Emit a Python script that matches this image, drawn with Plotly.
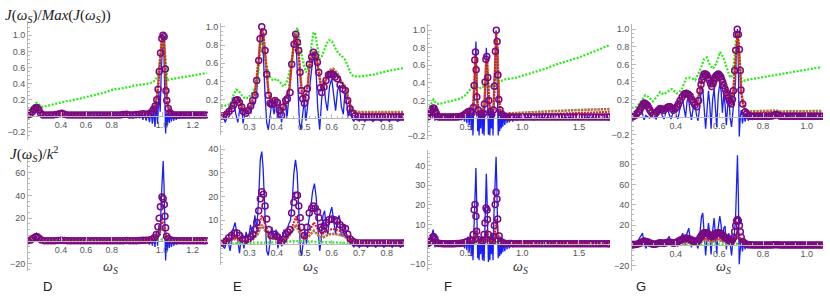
import plotly.graph_objects as go

# ---------------- data ----------------
# Panel D, upper (normalised)
D_TOP_BLUE = [(0.195,0.0),(0.215,0.01),(0.23,0.04),(0.24,0.09),(0.25,0.11),(0.26,0.09),(0.27,0.03),(0.28,0.0),(0.3,0.01),(0.33,0.0),(0.36,0.01),(0.39,0.02),(0.4,0.03),(0.41,0.02),(0.45,0.0),(0.5,0.01),(0.55,0.0),(0.6,0.01),(0.65,0.0),(0.7,0.01),(0.75,0.0),(0.8,0.01),(0.82,-0.01),(0.84,0.02),(0.86,-0.02),(0.87,0.02),(0.88,-0.03),(0.89,0.03),(0.9,-0.05),(0.91,0.03),(0.92,-0.06),(0.93,0.04),(0.94,-0.08),(0.95,0.05),(0.958,-0.1),(0.966,0.08),(0.974,-0.14),(0.982,0.15),(0.99,-0.1),(0.998,0.3),(1.006,0.05),(1.013,0.6),(1.019,0.92),(1.024,1.0),(1.029,0.75),(1.034,0.15),(1.039,-0.22),(1.044,0.02),(1.05,-0.12),(1.056,0.06),(1.062,-0.09),(1.068,0.05),(1.075,-0.07),(1.082,0.04),(1.089,-0.06),(1.096,0.03),(1.104,-0.05),(1.112,0.03),(1.12,-0.04),(1.13,0.02),(1.14,-0.03),(1.15,0.01),(1.17,0.0),(1.2,0.0),(1.285,0.0)]
D_TOP_GREEN = [(0.195,0.07),(0.21,0.085),(0.225,0.10),(0.235,0.13),(0.245,0.155),(0.255,0.16),(0.265,0.14),(0.275,0.12),(0.29,0.11),(0.31,0.12),(0.34,0.14),(0.37,0.155),(0.40,0.17),(0.43,0.18),(0.46,0.19),(0.49,0.20),(0.52,0.215),(0.55,0.23),(0.58,0.245),(0.61,0.26),(0.64,0.275),(0.67,0.29),(0.70,0.315),(0.73,0.33),(0.76,0.335),(0.79,0.345),(0.82,0.36),(0.85,0.375),(0.88,0.385),(0.91,0.39),(0.94,0.40),(0.96,0.42),(0.975,0.44),(0.99,0.50),(1.0,0.60),(1.01,0.78),(1.02,0.95),(1.025,1.0),(1.03,0.92),(1.04,0.70),(1.045,0.50),(1.05,0.44),(1.06,0.45),(1.09,0.46),(1.12,0.47),(1.15,0.48),(1.18,0.49),(1.21,0.50),(1.24,0.51),(1.27,0.52),(1.29,0.53)]
D_TOP_BROWN = [(0.195,0.03),(0.225,0.07),(0.245,0.12),(0.255,0.12),(0.27,0.06),(0.29,0.03),(0.4,0.045),(0.45,0.03),(0.8,0.035),(0.9,0.04),(0.94,0.05),(0.96,0.08),(0.975,0.14),(0.985,0.23),(0.993,0.37),(1.0,0.58),(1.008,0.8),(1.016,0.95),(1.023,0.98),(1.03,0.92),(1.037,0.6),(1.042,0.35),(1.047,0.21),(1.055,0.11),(1.065,0.06),(1.08,0.035),(1.285,0.035)]
D_TOP_RED = [(0.195,0.02),(0.225,0.06),(0.245,0.11),(0.255,0.11),(0.27,0.05),(0.29,0.02),(0.4,0.035),(0.45,0.02),(0.6,0.02),(0.8,0.025),(0.9,0.03),(0.94,0.04),(0.96,0.07),(0.975,0.13),(0.985,0.22),(0.993,0.36),(1.0,0.58),(1.008,0.8),(1.016,0.95),(1.023,0.99),(1.03,0.93),(1.037,0.6),(1.042,0.34),(1.047,0.2),(1.055,0.1),(1.065,0.05),(1.08,0.025),(1.285,0.02)]
D_TOP_PURPLE = [(0.195,0.01),(0.21,0.02),(0.225,0.05),(0.235,0.08),(0.245,0.1),(0.255,0.1),(0.265,0.07),(0.275,0.03),(0.29,0.01),(0.31,0.01),(0.33,0.01),(0.35,0.01),(0.37,0.015),(0.39,0.025),(0.405,0.03),(0.42,0.02),(0.44,0.01),(0.46,0.01),(0.48,0.01),(0.5,0.01),(0.52,0.01),(0.54,0.01),(0.56,0.01),(0.58,0.01),(0.6,0.01),(0.62,0.01),(0.64,0.01),(0.66,0.01),(0.68,0.01),(0.7,0.01),(0.72,0.01),(0.74,0.01),(0.76,0.01),(0.78,0.015),(0.8,0.02),(0.82,0.01),(0.84,0.01),(0.86,0.015),(0.88,0.02),(0.9,0.025),(0.915,0.02),(0.93,0.02),(0.945,0.03),(0.955,0.05),(0.965,0.08),(0.975,0.12),(0.985,0.2),(0.993,0.33),(1.0,0.55),(1.008,0.78),(1.016,0.96),(1.023,1.0),(1.03,0.98),(1.037,0.58),(1.041,0.31),(1.046,0.19),(1.055,0.09),(1.065,0.04),(1.075,0.02),(1.09,0.01),(1.105,0.01),(1.12,0.01),(1.135,0.01),(1.15,0.01),(1.165,0.01),(1.18,0.01),(1.195,0.01),(1.21,0.01),(1.225,0.01),(1.24,0.01),(1.255,0.01),(1.27,0.01),(1.285,0.01)]

# Panel D, lower (J/k^2)
D_BOT_BLUE = [(0.195,0),(0.225,1),(0.24,5),(0.25,7),(0.26,5),(0.27,1),(0.28,0),(0.4,0.5),(0.5,0),(0.85,0),(0.87,1),(0.88,-1),(0.9,2),(0.91,-2),(0.925,2),(0.94,-3),(0.95,3),(0.958,-4),(0.966,5),(0.974,-5),(0.982,8),(0.99,-4),(0.998,14),(1.006,5),(1.013,38),(1.019,64),(1.024,70),(1.029,50),(1.034,8),(1.039,-17),(1.044,2),(1.05,-8),(1.056,4),(1.062,-6),(1.068,4),(1.075,-5),(1.082,3),(1.089,-4),(1.096,2),(1.104,-3),(1.112,2),(1.12,-2),(1.13,1),(1.14,-1),(1.15,0.5),(1.285,0)]
D_BOT_GREEN = [(0.195,0.2),(0.25,0.6),(0.3,0.3),(0.9,0.3),(0.98,0.6),(1.0,1.2),(1.02,1.6),(1.04,1.0),(1.06,0.5),(1.285,0.5)]
D_BOT_BROWN = [(0.195,0.5),(0.245,2),(0.255,2),(0.28,0.5),(0.9,0.5),(0.97,1.5),(0.99,4),(1.005,8),(1.02,11),(1.032,9),(1.042,4),(1.055,1.5),(1.08,0.6),(1.285,0.5)]
D_BOT_RED = [(0.195,0.3),(0.245,2.5),(0.255,2.5),(0.28,0.5),(0.4,0.5),(0.9,0.5),(0.96,1.5),(0.98,3.5),(0.995,8),(1.008,14),(1.02,17),(1.03,14),(1.038,7),(1.048,2),(1.07,0.6),(1.285,0.4)]
D_BOT_PURPLE = [(0.195,0.3),(0.215,1),(0.23,2.5),(0.245,3.8),(0.255,3.8),(0.265,2.5),(0.28,1),(0.3,0.4),(0.32,0.3),(0.34,0.3),(0.36,0.3),(0.38,0.5),(0.4,0.7),(0.42,0.6),(0.44,0.4),(0.46,0.3),(0.48,0.3),(0.5,0.3),(0.52,0.3),(0.54,0.3),(0.56,0.3),(0.58,0.3),(0.6,0.3),(0.62,0.3),(0.64,0.3),(0.66,0.3),(0.68,0.3),(0.7,0.3),(0.72,0.3),(0.74,0.3),(0.76,0.3),(0.78,0.4),(0.8,0.6),(0.82,0.4),(0.84,0.4),(0.86,0.4),(0.88,0.5),(0.9,0.7),(0.92,0.8),(0.94,1.0),(0.955,1.5),(0.97,3),(0.982,5.8),(0.992,12.5),(1.0,20),(1.007,30),(1.017,38.6),(1.024,37),(1.031,32),(1.035,21.7),(1.039,11.6),(1.045,4.3),(1.055,2),(1.07,1),(1.09,0.5),(1.11,0.4),(1.13,0.3),(1.15,0.3),(1.17,0.3),(1.19,0.3),(1.21,0.3),(1.23,0.3),(1.25,0.3),(1.27,0.3),(1.285,0.3)]

# Panel E, upper
E_TOP_BLUE = [(0.196,-0.01),(0.205,0.02),(0.212,-0.05),(0.222,0.05),(0.232,0.15),(0.242,0.23),(0.25,0.05),(0.258,-0.05),(0.265,0.1),(0.272,0.12),(0.277,-0.06),(0.284,0.08),(0.29,0.04),(0.298,0.12),(0.305,0.05),(0.312,0.18),(0.32,0.15),(0.327,0.3),(0.333,0.6),(0.34,0.92),(0.345,0.98),(0.35,0.75),(0.357,0.25),(0.363,-0.05),(0.369,-0.13),(0.376,0.02),(0.382,0.18),(0.39,0.04),(0.397,0.2),(0.404,0.0),(0.41,0.17),(0.417,-0.05),(0.424,0.12),(0.43,0.2),(0.437,0.0),(0.444,0.25),(0.452,0.5),(0.458,0.8),(0.464,0.93),(0.47,0.85),(0.476,0.45),(0.482,-0.05),(0.488,-0.13),(0.494,0.05),(0.5,0.2),(0.506,-0.03),(0.512,0.15),(0.518,0.3),(0.524,0.5),(0.53,0.62),(0.537,0.68),(0.543,0.5),(0.549,0.1),(0.556,-0.13),(0.563,0.2),(0.57,0.42),(0.577,0.2),(0.584,0.08),(0.592,0.35),(0.6,0.43),(0.607,0.25),(0.614,0.08),(0.621,0.3),(0.628,0.36),(0.635,0.12),(0.642,0.04),(0.648,0.28),(0.655,0.15),(0.66,0.0),(0.667,0.15),(0.673,0.0),(0.68,-0.04),(0.69,0.02),(0.7,-0.04),(0.71,0.01),(0.72,-0.04),(0.735,0.01),(0.75,-0.04),(0.765,0.01),(0.78,-0.04),(0.795,0.01),(0.81,-0.04),(0.825,0.01),(0.84,-0.04),(0.862,0.0)]
E_TOP_GREEN = [(0.196,0.127),(0.2175,0.138),(0.232,0.156),(0.2417,0.247),(0.2515,0.31),(0.26,0.30),(0.272,0.25),(0.284,0.21),(0.296,0.22),(0.308,0.265),(0.321,0.33),(0.329,0.39),(0.336,0.6),(0.342,0.82),(0.347,0.88),(0.353,0.75),(0.36,0.6),(0.369,0.5),(0.378,0.43),(0.387,0.41),(0.4,0.43),(0.412,0.39),(0.424,0.345),(0.433,0.375),(0.442,0.45),(0.45,0.56),(0.46,0.74),(0.469,0.96),(0.475,0.99),(0.482,0.88),(0.49,0.7),(0.5,0.56),(0.506,0.5),(0.515,0.56),(0.523,0.74),(0.533,0.94),(0.54,0.92),(0.548,0.77),(0.555,0.65),(0.563,0.67),(0.572,0.74),(0.582,0.82),(0.591,0.855),(0.601,0.84),(0.612,0.77),(0.624,0.71),(0.636,0.68),(0.648,0.64),(0.66,0.56),(0.67,0.48),(0.681,0.455),(0.703,0.455),(0.751,0.476),(0.8,0.513),(0.849,0.54),(0.863,0.55)]
E_TOP_BROWN = [(0.196,0.04),(0.22,0.06),(0.24,0.15),(0.255,0.22),(0.265,0.19),(0.278,0.09),(0.29,0.07),(0.305,0.15),(0.32,0.27),(0.327,0.43),(0.334,0.64),(0.34,0.87),(0.345,0.97),(0.351,0.92),(0.357,0.72),(0.363,0.49),(0.37,0.27),(0.38,0.19),(0.393,0.21),(0.41,0.11),(0.418,0.06),(0.43,0.21),(0.445,0.31),(0.454,0.6),(0.462,0.82),(0.469,0.92),(0.475,0.84),(0.482,0.6),(0.49,0.31),(0.5,0.19),(0.512,0.35),(0.52,0.6),(0.528,0.7),(0.535,0.73),(0.545,0.66),(0.555,0.46),(0.563,0.31),(0.575,0.4),(0.59,0.52),(0.605,0.54),(0.62,0.49),(0.635,0.4),(0.65,0.34),(0.66,0.22),(0.67,0.12),(0.68,0.075),(0.7,0.065),(0.86,0.065)]
E_TOP_RED = [(0.196,0.03),(0.22,0.05),(0.24,0.14),(0.255,0.21),(0.265,0.18),(0.278,0.08),(0.29,0.06),(0.305,0.14),(0.32,0.26),(0.327,0.42),(0.334,0.64),(0.34,0.88),(0.345,0.98),(0.351,0.93),(0.357,0.72),(0.363,0.48),(0.37,0.26),(0.38,0.18),(0.393,0.2),(0.41,0.1),(0.418,0.05),(0.43,0.2),(0.445,0.3),(0.454,0.6),(0.462,0.82),(0.469,0.93),(0.475,0.84),(0.482,0.6),(0.49,0.3),(0.5,0.18),(0.512,0.34),(0.52,0.6),(0.528,0.7),(0.535,0.73),(0.545,0.66),(0.555,0.45),(0.563,0.3),(0.575,0.38),(0.59,0.5),(0.605,0.52),(0.62,0.47),(0.635,0.38),(0.65,0.32),(0.66,0.2),(0.67,0.1),(0.68,0.06),(0.7,0.045),(0.86,0.045)]
E_TOP_PURPLE = [(0.196,0.02),(0.205,0.02),(0.2175,0.04),(0.226,0.07),(0.2357,0.1),(0.2417,0.14),(0.2502,0.19),(0.2563,0.2),(0.2636,0.17),(0.2721,0.12),(0.2782,0.07),(0.2867,0.05),(0.2964,0.08),(0.3049,0.13),(0.3121,0.19),(0.3206,0.25),(0.3267,0.41),(0.334,0.63),(0.3388,0.87),(0.3449,1.0),(0.351,0.94),(0.357,0.74),(0.3631,0.48),(0.3692,0.25),(0.3752,0.16),(0.38,0.15),(0.385,0.15),(0.3934,0.19),(0.4019,0.17),(0.4092,0.08),(0.4177,0.03),(0.4238,0.12),(0.4323,0.19),(0.4383,0.21),(0.4481,0.28),(0.4541,0.59),(0.4626,0.81),(0.4687,0.92),(0.4748,0.83),(0.4796,0.74),(0.4845,0.5),(0.4893,0.3),(0.4942,0.21),(0.5002,0.16),(0.506,0.22),(0.5112,0.32),(0.5184,0.59),(0.5269,0.67),(0.533,0.72),(0.5403,0.68),(0.5476,0.61),(0.5524,0.5),(0.5585,0.33),(0.5633,0.28),(0.5718,0.34),(0.5791,0.41),(0.5876,0.47),(0.594,0.48),(0.5998,0.48),(0.606,0.47),(0.6119,0.45),(0.6204,0.43),(0.6301,0.36),(0.6398,0.32),(0.6495,0.3),(0.658,0.19),(0.6665,0.1),(0.6762,0.05),(0.6847,0.02),(0.695,0.01),(0.705,0.01),(0.715,0.01),(0.725,0.01),(0.735,0.01),(0.745,0.01),(0.755,0.01),(0.765,0.01),(0.775,0.01),(0.785,0.01),(0.795,0.01),(0.805,0.01),(0.815,0.01),(0.825,0.01),(0.835,0.01),(0.845,0.01),(0.855,0.01),(0.862,0.01)]

# Panel E, lower
E_BOT_BLUE = [(0.196,0),(0.21,-2),(0.22,2),(0.23,-3),(0.24,6),(0.248,9),(0.256,3),(0.264,-4),(0.272,4),(0.28,-2),(0.288,5),(0.296,1),(0.304,8),(0.312,3),(0.32,12),(0.327,6),(0.334,20),(0.34,36),(0.345,39),(0.35,32),(0.357,12),(0.363,-3),(0.369,-5),(0.376,2),(0.382,7),(0.39,2),(0.397,6),(0.404,-2),(0.41,4),(0.418,-1),(0.426,6),(0.434,3),(0.442,8),(0.45,10),(0.456,18),(0.462,30),(0.468,35.5),(0.474,30),(0.48,12),(0.486,-3),(0.49,-5),(0.496,2),(0.502,6),(0.508,0),(0.514,8),(0.522,14),(0.53,22),(0.537,25.5),(0.543,20),(0.55,6),(0.556,-3),(0.562,2),(0.568,12),(0.574,14),(0.58,6),(0.586,4),(0.592,12),(0.6,15.5),(0.607,10),(0.614,4),(0.62,10),(0.627,12),(0.634,4),(0.64,3),(0.647,8),(0.654,4),(0.66,1),(0.667,3),(0.673,0),(0.68,-1.5),(0.69,0.5),(0.7,-1.5),(0.715,0.5),(0.73,-1.5),(0.745,0.5),(0.76,-1.5),(0.775,0.5),(0.79,-1.5),(0.805,0.5),(0.82,-1.5),(0.835,0.5),(0.85,-1.5),(0.862,0)]
E_BOT_GREEN = [(0.196,0.2),(0.3,0.4),(0.345,0.8),(0.4,0.6),(0.47,1.1),(0.535,0.9),(0.6,0.7),(0.68,0.3),(0.862,0.3)]
E_BOT_BROWN = [(0.196,0.3),(0.25,2),(0.28,0.8),(0.31,1.5),(0.33,4),(0.345,8),(0.36,5),(0.375,2),(0.393,2.2),(0.415,0.8),(0.44,2.5),(0.455,5),(0.47,8),(0.485,4),(0.5,1.5),(0.515,3),(0.535,5.5),(0.555,3),(0.565,2.5),(0.59,4),(0.61,4.2),(0.635,3.6),(0.655,2.5),(0.675,0.8),(0.7,0.4),(0.862,0.4)]
E_BOT_RED = [(0.196,0.3),(0.25,2.5),(0.28,1),(0.31,2),(0.33,6),(0.345,12),(0.36,7.5),(0.375,3),(0.393,3),(0.415,1),(0.44,3.5),(0.455,7),(0.47,11.5),(0.485,6),(0.5,2.5),(0.515,4.5),(0.535,9),(0.555,5),(0.565,4),(0.59,6),(0.61,6.2),(0.635,5.2),(0.655,3.5),(0.675,1),(0.7,0.4),(0.862,0.4)]
E_BOT_PURPLE = [(0.196,0.3),(0.205,0.5),(0.215,1.2),(0.225,2.5),(0.235,3.5),(0.245,4.5),(0.255,4.5),(0.265,3.5),(0.275,2),(0.285,1.5),(0.295,2),(0.305,3),(0.313,4),(0.32,6),(0.327,9),(0.334,14),(0.34,19),(0.345,22),(0.351,21),(0.357,16),(0.363,10.5),(0.37,6),(0.38,3.5),(0.393,4),(0.402,3),(0.41,1.5),(0.418,0.8),(0.425,2),(0.432,4),(0.44,5),(0.448,6),(0.454,13),(0.462,17.5),(0.469,20.5),(0.475,20.5),(0.48,16),(0.485,11),(0.49,7),(0.5,3.5),(0.51,7),(0.518,13),(0.527,15),(0.533,16),(0.54,15),(0.548,13.5),(0.553,11),(0.56,7),(0.565,6),(0.572,7.5),(0.58,9),(0.59,10.2),(0.6,10.5),(0.61,10.2),(0.62,9.5),(0.63,8),(0.64,7),(0.65,6.5),(0.658,4),(0.667,2),(0.676,1),(0.685,0.5),(0.695,0.3),(0.705,0.3),(0.715,0.3),(0.725,0.3),(0.735,0.3),(0.745,0.3),(0.755,0.3),(0.765,0.3),(0.775,0.3),(0.785,0.3),(0.795,0.3),(0.805,0.3),(0.815,0.3),(0.825,0.3),(0.835,0.3),(0.845,0.3),(0.855,0.3),(0.862,0.3)]

# Panel F, upper
F_TOP_BLUE = [(0.16,0.0),(0.18,0.01),(0.195,0.06),(0.205,0.14),(0.212,0.15),(0.22,0.05),(0.228,-0.03),(0.236,0.03),(0.245,-0.02),(0.26,0.01),(0.3,0.0),(0.35,0.01),(0.4,0.0),(0.44,0.01),(0.46,-0.02),(0.475,0.03),(0.49,-0.04),(0.5,0.06),(0.51,-0.06),(0.52,0.1),(0.53,-0.08),(0.54,0.12),(0.55,-0.14),(0.558,0.05),(0.564,-0.2),(0.572,0.2),(0.58,0.5),(0.586,0.8),(0.59,0.87),(0.595,0.6),(0.6,0.1),(0.606,-0.15),(0.612,0.1),(0.618,-0.2),(0.625,0.08),(0.632,-0.12),(0.64,0.1),(0.648,-0.18),(0.655,0.1),(0.662,-0.2),(0.67,0.25),(0.676,0.6),(0.682,0.8),(0.688,0.55),(0.694,0.0),(0.7,-0.19),(0.707,0.1),(0.713,-0.2),(0.72,0.1),(0.727,-0.12),(0.734,0.12),(0.741,-0.2),(0.748,0.3),(0.755,0.6),(0.762,0.9),(0.768,1.0),(0.774,0.7),(0.78,0.1),(0.787,-0.2),(0.794,0.1),(0.8,-0.15),(0.807,0.1),(0.814,-0.12),(0.82,0.08),(0.828,-0.1),(0.836,0.06),(0.845,-0.08),(0.855,0.05),(0.865,-0.06),(0.875,0.04),(0.885,-0.05),(0.9,0.03),(0.915,-0.04),(0.93,0.02),(0.95,-0.03),(0.97,0.02),(1.0,-0.02),(1.05,0.01),(1.1,-0.02),(1.2,0.01),(1.3,-0.02),(1.4,0.01),(1.5,-0.02),(1.6,0.01),(1.7,-0.02),(1.77,0.0)]
F_TOP_GREEN = [(0.16,0.09),(0.18,0.12),(0.2,0.18),(0.215,0.21),(0.23,0.18),(0.245,0.16),(0.27,0.16),(0.3,0.17),(0.35,0.185),(0.4,0.2),(0.45,0.22),(0.49,0.25),(0.52,0.29),(0.545,0.33),(0.565,0.36),(0.585,0.4),(0.6,0.35),(0.62,0.33),(0.645,0.36),(0.665,0.35),(0.685,0.42),(0.7,0.37),(0.72,0.35),(0.745,0.38),(0.77,0.44),(0.79,0.41),(0.81,0.42),(0.85,0.44),(0.9,0.45),(0.95,0.46),(1.0,0.48),(1.1,0.52),(1.2,0.56),(1.3,0.61),(1.4,0.65),(1.5,0.69),(1.6,0.74),(1.7,0.79),(1.77,0.83)]
F_TOP_BROWN = [(0.16,0.03),(0.21,0.12),(0.235,0.08),(0.26,0.03),(0.45,0.04),(0.54,0.1),(0.565,0.11),(0.574,0.34),(0.582,0.6),(0.588,0.68),(0.594,0.48),(0.6,0.22),(0.612,0.1),(0.64,0.05),(0.665,0.15),(0.672,0.38),(0.68,0.6),(0.688,0.64),(0.697,0.42),(0.706,0.18),(0.72,0.07),(0.745,0.1),(0.753,0.34),(0.762,0.7),(0.77,0.9),(0.778,0.8),(0.786,0.45),(0.794,0.2),(0.805,0.09),(0.85,0.05),(1.0,0.06),(1.2,0.075),(1.4,0.085),(1.6,0.095),(1.77,0.1)]
F_TOP_RED = [(0.16,0.02),(0.21,0.11),(0.235,0.07),(0.26,0.02),(0.45,0.03),(0.54,0.09),(0.565,0.1),(0.574,0.35),(0.582,0.63),(0.588,0.72),(0.594,0.5),(0.6,0.22),(0.612,0.09),(0.64,0.04),(0.665,0.15),(0.672,0.4),(0.68,0.64),(0.688,0.68),(0.697,0.44),(0.706,0.18),(0.72,0.06),(0.745,0.09),(0.753,0.35),(0.762,0.74),(0.77,0.96),(0.778,0.85),(0.786,0.47),(0.794,0.2),(0.805,0.08),(0.85,0.03),(1.0,0.035),(1.2,0.045),(1.4,0.055),(1.6,0.065),(1.77,0.07)]
F_TOP_PURPLE = [(0.16,0.01),(0.17,0.02),(0.18,0.03),(0.19,0.05),(0.2,0.08),(0.21,0.11),(0.22,0.11),(0.23,0.08),(0.24,0.05),(0.25,0.02),(0.26,0.01),(0.28,0.01),(0.3,0.01),(0.32,0.01),(0.34,0.01),(0.36,0.01),(0.38,0.01),(0.4,0.01),(0.42,0.01),(0.44,0.015),(0.46,0.02),(0.48,0.03),(0.5,0.05),(0.52,0.07),(0.54,0.08),(0.556,0.06),(0.568,0.12),(0.574,0.37),(0.58,0.66),(0.586,0.75),(0.592,0.55),(0.598,0.24),(0.61,0.09),(0.625,0.04),(0.64,0.03),(0.656,0.05),(0.665,0.16),(0.671,0.41),(0.678,0.67),(0.686,0.7),(0.695,0.46),(0.704,0.2),(0.715,0.07),(0.73,0.04),(0.744,0.09),(0.753,0.36),(0.762,0.76),(0.77,1.0),(0.777,0.87),(0.784,0.49),(0.792,0.21),(0.803,0.09),(0.82,0.04),(0.84,0.02),(0.86,0.01),(0.88,0.01),(0.9,0.01),(0.925,0.01),(0.95,0.01),(0.975,0.01),(1.0,0.01),(1.025,0.01),(1.05,0.01),(1.075,0.01),(1.1,0.01),(1.125,0.01),(1.15,0.01),(1.175,0.01),(1.2,0.01),(1.225,0.01),(1.25,0.01),(1.275,0.01),(1.3,0.01),(1.325,0.01),(1.35,0.01),(1.375,0.01),(1.4,0.01),(1.425,0.01),(1.45,0.01),(1.475,0.01),(1.5,0.01),(1.525,0.01),(1.55,0.01),(1.575,0.01),(1.6,0.01),(1.625,0.01),(1.65,0.01),(1.675,0.01),(1.7,0.01),(1.725,0.01),(1.75,0.01),(1.77,0.01)]

# Panel F, lower
F_BOT_BLUE = [(0.16,0),(0.18,0.5),(0.195,3),(0.205,6.5),(0.212,7.5),(0.22,3),(0.228,-1.5),(0.236,1.5),(0.245,-1),(0.26,0.5),(0.3,0),(0.4,0),(0.44,0.5),(0.46,-1),(0.475,1.5),(0.49,-2),(0.5,3),(0.51,-3),(0.52,4),(0.53,-4),(0.54,5),(0.55,-6),(0.558,2),(0.564,-8),(0.572,8),(0.58,22),(0.586,36),(0.59,38.7),(0.595,26),(0.6,4),(0.606,-7),(0.612,4),(0.618,-8),(0.625,3),(0.632,-5),(0.64,4),(0.648,-8),(0.655,4),(0.662,-8.5),(0.67,10),(0.676,26),(0.682,35.8),(0.688,24),(0.694,0),(0.7,-8.9),(0.707,4),(0.713,-8),(0.72,4),(0.727,-5),(0.734,5),(0.741,-8),(0.748,13),(0.755,27),(0.762,40),(0.768,44.5),(0.774,31),(0.78,4),(0.787,-7),(0.794,4),(0.8,-6),(0.807,4),(0.814,-5),(0.82,3),(0.828,-4),(0.836,2.5),(0.845,-3.5),(0.855,2),(0.865,-2.5),(0.875,1.5),(0.885,-2),(0.9,1.2),(0.915,-1.5),(0.93,1),(0.95,-1.2),(0.97,0.8),(1.0,-1),(1.05,0.5),(1.1,-0.8),(1.2,0.4),(1.3,-0.6),(1.4,0.4),(1.5,-0.6),(1.6,0.4),(1.7,-0.6),(1.77,0)]
F_BOT_GREEN = [(0.16,0.2),(0.21,0.6),(0.26,0.3),(0.5,0.4),(0.585,0.9),(0.685,0.9),(0.77,1.1),(0.85,0.5),(1.77,0.5)]
F_BOT_BROWN = [(0.16,0.4),(0.21,1.5),(0.26,0.5),(0.5,0.6),(0.56,1.2),(0.585,4),(0.61,1),(0.66,1),(0.685,3.5),(0.71,1),(0.75,1.2),(0.77,6),(0.795,1.2),(0.85,0.6),(1.77,0.8)]
F_BOT_RED = [(0.16,0.3),(0.21,2.5),(0.26,0.5),(0.5,0.8),(0.56,1.5),(0.585,8),(0.61,1.5),(0.66,1.5),(0.685,7.5),(0.71,1.5),(0.75,2),(0.77,13),(0.795,2),(0.85,0.6),(1.77,0.6)]
F_BOT_PURPLE = [(0.16,0.3),(0.175,0.8),(0.19,1.5),(0.205,3.5),(0.215,4),(0.228,3),(0.245,1),(0.26,0.5),(0.28,0.4),(0.3,0.3),(0.32,0.3),(0.34,0.3),(0.36,0.3),(0.38,0.3),(0.4,0.3),(0.42,0.4),(0.44,0.5),(0.46,0.6),(0.48,0.8),(0.5,1.2),(0.52,1.6),(0.54,2),(0.556,2),(0.566,5),(0.574,17.6),(0.582,20.2),(0.59,14.3),(0.596,6.7),(0.61,2.5),(0.63,1.2),(0.65,1.8),(0.662,5),(0.67,10.9),(0.679,18.5),(0.688,17.5),(0.692,12.6),(0.7,5),(0.715,2),(0.735,1.5),(0.745,4),(0.753,9.6),(0.76,20.2),(0.768,26.4),(0.776,23),(0.782,12.9),(0.795,4.2),(0.81,1.5),(0.825,0.8),(0.84,0.6),(0.86,0.4),(0.88,0.4),(0.9,0.4),(0.925,0.3),(0.95,0.3),(0.975,0.3),(1.0,0.3),(1.025,0.3),(1.05,0.3),(1.075,0.3),(1.1,0.3),(1.125,0.3),(1.15,0.3),(1.175,0.3),(1.2,0.3),(1.225,0.3),(1.25,0.3),(1.275,0.3),(1.3,0.3),(1.325,0.3),(1.35,0.3),(1.375,0.3),(1.4,0.3),(1.425,0.3),(1.45,0.3),(1.475,0.3),(1.5,0.3),(1.525,0.3),(1.55,0.3),(1.575,0.3),(1.6,0.3),(1.625,0.3),(1.65,0.3),(1.675,0.3),(1.7,0.3),(1.725,0.3),(1.75,0.3),(1.77,0.3)]

# Panel G, upper
G_TOP_BLUE = [(0.197,-0.01),(0.21,0.0),(0.222,0.05),(0.232,0.1),(0.24,0.12),(0.248,0.05),(0.255,-0.03),(0.263,0.02),(0.27,0.01),(0.28,-0.01),(0.29,0.02),(0.3,0.01),(0.31,-0.02),(0.32,0.05),(0.33,0.1),(0.338,0.02),(0.346,-0.02),(0.354,0.05),(0.362,0.11),(0.37,0.03),(0.378,-0.02),(0.386,0.04),(0.395,0.1),(0.402,0.02),(0.41,-0.02),(0.418,0.08),(0.426,0.15),(0.432,0.2),(0.438,0.1),(0.445,0.0),(0.452,0.18),(0.458,0.23),(0.465,0.08),(0.472,-0.03),(0.48,0.1),(0.488,0.15),(0.495,0.03),(0.502,-0.04),(0.51,0.12),(0.518,0.35),(0.524,0.32),(0.53,0.05),(0.537,-0.13),(0.544,0.1),(0.55,0.3),(0.556,0.15),(0.562,-0.13),(0.569,0.2),(0.576,0.32),(0.582,0.1),(0.588,-0.11),(0.595,0.25),(0.602,0.38),(0.608,0.3),(0.614,0.05),(0.62,0.25),(0.626,0.15),(0.632,-0.09),(0.638,0.12),(0.644,0.2),(0.65,-0.02),(0.656,-0.11),(0.662,0.1),(0.668,0.2),(0.674,0.4),(0.679,0.85),(0.683,1.0),(0.687,0.6),(0.691,-0.22),(0.696,0.0),(0.7,0.08),(0.706,-0.07),(0.712,0.05),(0.718,-0.05),(0.725,0.04),(0.732,-0.04),(0.74,0.03),(0.75,-0.03),(0.76,0.02),(0.77,-0.02),(0.78,0.02),(0.79,-0.02),(0.8,0.02),(0.82,-0.02),(0.84,0.02),(0.86,0.04),(0.87,0.0),(0.88,-0.02),(0.9,0.01),(0.93,-0.01),(0.96,0.01),(1.0,0.0),(1.04,0.01),(1.072,0.0)]
G_TOP_GREEN = [(0.198,0.105),(0.221,0.117),(0.244,0.19),(0.26,0.25),(0.275,0.23),(0.295,0.18),(0.313,0.23),(0.328,0.285),(0.344,0.26),(0.366,0.30),(0.382,0.32),(0.405,0.27),(0.427,0.31),(0.447,0.44),(0.466,0.45),(0.489,0.42),(0.511,0.53),(0.53,0.66),(0.542,0.68),(0.557,0.59),(0.572,0.55),(0.588,0.62),(0.603,0.74),(0.618,0.68),(0.634,0.57),(0.649,0.45),(0.661,0.47),(0.672,0.75),(0.679,0.96),(0.687,0.87),(0.695,0.57),(0.702,0.4),(0.718,0.42),(0.786,0.45),(0.863,0.48),(0.939,0.52),(1.015,0.545),(1.069,0.57)]
G_TOP_BROWN = [(0.198,0.03),(0.23,0.08),(0.256,0.18),(0.27,0.15),(0.298,0.05),(0.328,0.12),(0.344,0.1),(0.37,0.135),(0.39,0.1),(0.405,0.14),(0.42,0.21),(0.44,0.29),(0.45,0.3),(0.466,0.26),(0.481,0.19),(0.496,0.14),(0.511,0.31),(0.52,0.44),(0.53,0.51),(0.542,0.51),(0.554,0.44),(0.565,0.37),(0.576,0.44),(0.585,0.49),(0.595,0.51),(0.606,0.48),(0.615,0.42),(0.626,0.34),(0.637,0.27),(0.646,0.21),(0.655,0.17),(0.664,0.3),(0.67,0.48),(0.675,0.68),(0.679,0.85),(0.683,0.9),(0.687,0.85),(0.692,0.68),(0.697,0.46),(0.7,0.3),(0.708,0.16),(0.72,0.08),(0.74,0.065),(0.86,0.075),(0.88,0.065),(1.072,0.07)]
G_TOP_RED = [(0.198,0.02),(0.23,0.07),(0.256,0.17),(0.27,0.14),(0.298,0.04),(0.328,0.11),(0.344,0.09),(0.37,0.125),(0.39,0.09),(0.405,0.13),(0.42,0.2),(0.44,0.28),(0.45,0.29),(0.466,0.25),(0.481,0.18),(0.496,0.13),(0.511,0.3),(0.52,0.43),(0.53,0.5),(0.542,0.5),(0.554,0.43),(0.565,0.36),(0.576,0.43),(0.585,0.48),(0.595,0.5),(0.606,0.47),(0.615,0.41),(0.626,0.33),(0.637,0.26),(0.646,0.2),(0.655,0.16),(0.664,0.3),(0.67,0.5),(0.675,0.72),(0.679,0.9),(0.683,0.95),(0.687,0.9),(0.692,0.72),(0.697,0.48),(0.7,0.3),(0.708,0.15),(0.72,0.07),(0.74,0.045),(0.86,0.055),(0.88,0.045),(1.072,0.045)]
G_TOP_PURPLE = [(0.198,0.0),(0.206,0.01),(0.213,0.02),(0.221,0.04),(0.229,0.06),(0.237,0.09),(0.244,0.12),(0.25,0.145),(0.256,0.16),(0.263,0.15),(0.27,0.135),(0.276,0.11),(0.282,0.08),(0.29,0.05),(0.298,0.03),(0.305,0.04),(0.313,0.06),(0.32,0.08),(0.328,0.1),(0.336,0.09),(0.344,0.08),(0.353,0.1),(0.362,0.11),(0.368,0.12),(0.374,0.12),(0.382,0.1),(0.39,0.08),(0.398,0.1),(0.405,0.12),(0.412,0.15),(0.42,0.19),(0.429,0.23),(0.438,0.26),(0.444,0.27),(0.45,0.27),(0.458,0.26),(0.466,0.24),(0.474,0.2),(0.481,0.17),(0.488,0.14),(0.496,0.12),(0.505,0.19),(0.511,0.3),(0.516,0.37),(0.52,0.42),(0.525,0.46),(0.53,0.49),(0.536,0.49),(0.542,0.48),(0.548,0.45),(0.554,0.42),(0.56,0.38),(0.565,0.35),(0.571,0.38),(0.576,0.42),(0.58,0.45),(0.585,0.47),(0.59,0.48),(0.595,0.49),(0.6,0.48),(0.606,0.46),(0.61,0.43),(0.615,0.4),(0.62,0.36),(0.626,0.32),(0.632,0.28),(0.637,0.25),(0.642,0.22),(0.646,0.19),(0.65,0.17),(0.655,0.15),(0.66,0.2),(0.664,0.3),(0.67,0.53),(0.675,0.76),(0.679,0.94),(0.682,1.0),(0.687,0.94),(0.692,0.77),(0.696,0.53),(0.699,0.31),(0.707,0.15),(0.718,0.06),(0.725,0.04),(0.733,0.02),(0.741,0.01),(0.75,0.01),(0.76,0.01),(0.77,0.01),(0.78,0.01),(0.79,0.01),(0.8,0.01),(0.81,0.01),(0.82,0.01),(0.83,0.01),(0.84,0.015),(0.85,0.02),(0.86,0.03),(0.87,0.025),(0.88,0.01),(0.89,0.01),(0.9,0.01),(0.91,0.01),(0.92,0.01),(0.93,0.01),(0.94,0.01),(0.95,0.01),(0.96,0.01),(0.97,0.01),(0.98,0.01),(0.99,0.01),(1.0,0.01),(1.01,0.01),(1.02,0.01),(1.03,0.01),(1.04,0.01),(1.05,0.01),(1.06,0.01),(1.072,0.01)]

# Panel G, lower
G_BOT_BLUE = [(0.197,0),(0.21,0.5),(0.222,3),(0.232,6),(0.24,9),(0.248,12),(0.255,2),(0.263,-3),(0.27,1),(0.28,-1),(0.29,1),(0.3,0.5),(0.31,-1),(0.32,3),(0.33,5),(0.338,1),(0.346,-1),(0.354,3),(0.362,6),(0.37,9),(0.378,0),(0.386,2),(0.395,5),(0.402,1),(0.41,-1),(0.418,5),(0.426,10),(0.432,12),(0.438,6),(0.445,0),(0.452,12),(0.46,17),(0.466,6),(0.472,-2),(0.48,6),(0.488,8),(0.495,1),(0.502,-3),(0.51,10),(0.518,28),(0.524,32),(0.53,8),(0.537,-10),(0.544,8),(0.55,22),(0.556,12),(0.562,-9),(0.569,14),(0.576,27),(0.582,10),(0.588,-8),(0.595,18),(0.602,29),(0.608,20),(0.614,3),(0.62,17),(0.626,19),(0.632,-4),(0.638,8),(0.644,12),(0.65,-2),(0.656,-10),(0.662,5),(0.668,10),(0.674,25),(0.679,70),(0.683,89),(0.687,50),(0.691,-18.6),(0.696,-4),(0.7,5),(0.706,-6),(0.712,4),(0.718,-4),(0.725,3),(0.732,-3),(0.74,2),(0.75,-2),(0.76,1.5),(0.77,-1.5),(0.78,1),(0.8,-1),(0.82,1),(0.84,-1),(0.86,2),(0.87,0),(0.9,0.5),(0.95,0),(1.0,0.3),(1.072,0)]
G_BOT_GREEN = [(0.198,0.2),(0.45,0.6),(0.53,1),(0.6,1),(0.683,1.8),(0.72,0.6),(1.072,0.6)]
G_BOT_BROWN = [(0.198,0.5),(0.256,1.8),(0.298,0.7),(0.37,1.3),(0.45,2.8),(0.496,1.5),(0.53,5),(0.565,3.5),(0.595,5),(0.646,2.2),(0.655,2),(0.67,5),(0.683,9),(0.696,5),(0.71,1.6),(0.74,1),(1.072,1)]
G_BOT_RED = [(0.198,0.5),(0.256,2.5),(0.298,0.8),(0.37,1.8),(0.45,4),(0.496,2),(0.53,7),(0.565,5),(0.595,7),(0.646,3),(0.655,2.5),(0.67,7),(0.683,14),(0.696,7),(0.71,2),(0.74,1),(1.072,0.8)]
G_BOT_PURPLE = [(0.198,0.3),(0.206,0.5),(0.213,0.8),(0.221,1.1),(0.23,1.5),(0.237,2.2),(0.244,3),(0.25,3.7),(0.256,4.2),(0.263,3.9),(0.27,3.5),(0.278,2.7),(0.285,2),(0.292,1.4),(0.298,1),(0.305,1.2),(0.313,1.5),(0.32,2),(0.328,2.5),(0.336,2.3),(0.344,2),(0.352,2.4),(0.36,2.8),(0.367,3),(0.374,3),(0.382,2.5),(0.39,2),(0.398,2.5),(0.405,3),(0.412,4),(0.42,5),(0.429,6),(0.438,6.7),(0.444,7),(0.45,7),(0.458,6.6),(0.466,6),(0.474,5.1),(0.481,4.3),(0.488,3.6),(0.496,3),(0.505,5),(0.511,7.5),(0.516,9),(0.52,10.5),(0.525,11.5),(0.53,12.4),(0.536,12.4),(0.542,12.2),(0.548,11.4),(0.554,10.5),(0.56,9.6),(0.565,8.8),(0.571,9.6),(0.576,10.5),(0.58,11.3),(0.585,12),(0.59,12.3),(0.595,12.5),(0.6,12.2),(0.606,11.7),(0.61,10.9),(0.615,10),(0.62,9),(0.626,8),(0.632,7.1),(0.637,6.3),(0.642,5.5),(0.646,4.8),(0.65,4.3),(0.655,3.8),(0.66,5.5),(0.664,7.6),(0.67,13.5),(0.675,19.4),(0.679,24),(0.683,25.5),(0.687,24),(0.692,19.6),(0.696,13.5),(0.7,7.9),(0.707,3.8),(0.712,2.5),(0.718,1.5),(0.725,1),(0.733,0.6),(0.741,0.5),(0.75,0.4),(0.76,0.3),(0.77,0.3),(0.78,0.3),(0.79,0.3),(0.8,0.3),(0.81,0.3),(0.82,0.3),(0.83,0.3),(0.84,0.4),(0.85,0.5),(0.86,0.7),(0.87,0.6),(0.88,0.4),(0.89,0.3),(0.9,0.3),(0.91,0.3),(0.92,0.3),(0.93,0.3),(0.94,0.3),(0.95,0.3),(0.96,0.3),(0.97,0.3),(0.98,0.3),(0.99,0.3),(1.0,0.3),(1.01,0.3),(1.02,0.3),(1.03,0.3),(1.04,0.3),(1.05,0.3),(1.06,0.3),(1.072,0.3)]

# tick labels
D_X_TICKVALS = [0.4, 0.553, 0.71, 1.017, 1.204]
D_X_TICKTEXT = ["0.4", "0.6", "0.8", "1.0", "1.2"]
E_X_TICKS = [0.3, 0.4, 0.5, 0.6, 0.7, 0.8]
F_X_TICKS = [0.5, 1.0, 1.5]
G_X_TICKS = [0.4, 0.6, 0.8, 1.0]
TOP_Y_TICKS = [-0.2, 0.2, 0.4, 0.6, 0.8, 1.0]
E_TOP_Y_TICKS = [0.2, 0.4, 0.6, 0.8, 1.0]
D_BOT_Y_TICKS = [-20, 20, 40, 60]
E_BOT_Y_TICKS = [10, 20, 30, 40]
F_BOT_Y_TICKS = [-10, 10, 20, 30, 40]
G_BOT_Y_TICKS = [-20, 20, 40, 60, 80]
PANEL_LETTERS = ["D", "E", "F", "G"]

# ---------------- styling / layout ----------------
W, H = 830, 300
BLUE = "rgb(25,30,255)"
GREEN = "rgb(40,235,20)"
BROWN = "rgb(168,118,70)"
RED = "rgb(235,25,20)"
PURPLE_EDGE = "rgb(120,10,130)"
AXC = "#b8b8b8"
TXT = "#555555"


def fmt(v):
    s = ("%g" % v)
    if "." not in s and abs(v) < 2:
        s = s + ".0"
    return s.replace("-", "\u2212")


panels = [
    dict(series=(D_TOP_BLUE, D_TOP_GREEN, D_TOP_BROWN, D_TOP_RED, D_TOP_PURPLE),
         xpx=(27, 208), xr=[0.192, 1.298], ypx=(22, 140), yr=[-0.302, 1.154],
         yt=TOP_Y_TICKS, xt=(D_X_TICKVALS, D_X_TICKTEXT), xminor=None, yminor=0.05),
    dict(series=(E_TOP_BLUE, E_TOP_GREEN, E_TOP_BROWN, E_TOP_RED, E_TOP_PURPLE),
         xpx=(220, 404), xr=[0.193, 0.863], ypx=(22, 135), yr=[-0.189, 1.044],
         yt=E_TOP_Y_TICKS, xt=(E_X_TICKS, None), xminor=0.02, yminor=0.05),
    dict(series=(F_TOP_BLUE, F_TOP_GREEN, F_TOP_BROWN, F_TOP_RED, F_TOP_PURPLE),
         xpx=(427, 610), xr=[0.158, 1.774], ypx=(23, 140), yr=[-0.252, 1.072],
         yt=TOP_Y_TICKS, xt=(F_X_TICKS, None), xminor=0.1, yminor=0.05),
    dict(series=(G_TOP_BLUE, G_TOP_GREEN, G_TOP_BROWN, G_TOP_RED, G_TOP_PURPLE),
         xpx=(631, 823), xr=[0.195, 1.075], ypx=(23, 145), yr=[-0.316, 1.06],
         yt=TOP_Y_TICKS, xt=(G_X_TICKS, None), xminor=0.05, yminor=0.05),
    dict(series=(D_BOT_BLUE, D_BOT_GREEN, D_BOT_BROWN, D_BOT_RED, D_BOT_PURPLE),
         xpx=(27, 208), xr=[0.192, 1.298], ypx=(153, 272), yr=[-26.3, 77.1],
         yt=D_BOT_Y_TICKS, xt=(D_X_TICKVALS, D_X_TICKTEXT), xminor=None, yminor=5),
    dict(series=(E_BOT_BLUE, E_BOT_GREEN, E_BOT_BROWN, E_BOT_RED, E_BOT_PURPLE),
         xpx=(220, 404), xr=[0.193, 0.863], ypx=(145, 266), yr=[-9.1, 41.8],
         yt=E_BOT_Y_TICKS, xt=(E_X_TICKS, None), xminor=0.02, yminor=2),
    dict(series=(F_BOT_BLUE, F_BOT_GREEN, F_BOT_BROWN, F_BOT_RED, F_BOT_PURPLE),
         xpx=(427, 610), xr=[0.158, 1.774], ypx=(150, 272), yr=[-13.6, 47.9],
         yt=F_BOT_Y_TICKS, xt=(F_X_TICKS, None), xminor=0.1, yminor=2),
    dict(series=(G_BOT_BLUE, G_BOT_GREEN, G_BOT_BROWN, G_BOT_RED, G_BOT_PURPLE),
         xpx=(631, 823), xr=[0.195, 1.075], ypx=(147, 272), yr=[-25.5, 97.1],
         yt=G_BOT_Y_TICKS, xt=(G_X_TICKS, None), xminor=0.05, yminor=5),
]

fig = go.Figure()
layout = {}
tickfont = dict(family="Liberation Sans, Arial, sans-serif", size=9, color=TXT)


def xs(s):
    return [a for a, b in s]


def ys(s):
    return [b for a, b in s]


for i, p in enumerate(panels, start=1):
    xa = "x" if i == 1 else "x%d" % i
    ya = "y" if i == 1 else "y%d" % i
    blue, green, brown, red, purple = p["series"]

    fig.add_trace(go.Scatter(x=xs(blue), y=ys(blue), mode="lines",
                             line=dict(color=BLUE, width=1.3),
                             xaxis=xa, yaxis=ya, hoverinfo="skip"))
    fig.add_trace(go.Scatter(x=xs(green), y=ys(green), mode="lines",
                             line=dict(color=GREEN, width=2.2, dash="2px,1.6px"),
                             xaxis=xa, yaxis=ya, hoverinfo="skip"))
    fig.add_trace(go.Scatter(x=xs(brown), y=ys(brown), mode="lines",
                             line=dict(color=BROWN, width=2.6, dash="2.5px,0.8px"),
                             xaxis=xa, yaxis=ya, hoverinfo="skip"))
    fig.add_trace(go.Scatter(x=xs(red), y=ys(red), mode="lines",
                             line=dict(color=RED, width=2.0, dash="2px,1px"),
                             xaxis=xa, yaxis=ya, hoverinfo="skip"))
    fig.add_trace(go.Scatter(x=xs(purple), y=ys(purple), mode="markers",
                             marker=dict(symbol="circle-open", size=6,
                                         color=PURPLE_EDGE, line=dict(width=1.5)),
                             xaxis=xa, yaxis=ya, hoverinfo="skip"))

    x0, x1 = p["xpx"]
    yt0, yb0 = p["ypx"]
    ylo, yhi = p["yr"]
    zero_px = yt0 + (yhi - 0.0) / (yhi - ylo) * (yb0 - yt0)
    tv, tt = p["xt"]
    xax = dict(domain=[x0 / W, x1 / W], range=p["xr"], anchor="free",
               position=1 - zero_px / H, showline=True, linecolor=AXC, linewidth=1,
               ticks="inside", ticklen=4, tickcolor=AXC, tickwidth=1,
               tickmode="array", tickvals=tv, ticktext=tt if tt else [fmt(v) for v in tv],
               tickfont=tickfont, showgrid=False, zeroline=False, fixedrange=True)
    if p["xminor"]:
        xax["minor"] = dict(ticks="inside", ticklen=2, tickcolor=AXC, dtick=p["xminor"],
                            tick0=0, showgrid=False)
    yax = dict(domain=[1 - yb0 / H, 1 - yt0 / H], range=p["yr"], anchor="free",
               position=x0 / W, showline=True, linecolor=AXC, linewidth=1,
               ticks="inside", ticklen=4, tickcolor=AXC, tickwidth=1,
               tickmode="array", tickvals=p["yt"], ticktext=[fmt(v) for v in p["yt"]],
               tickfont=tickfont, showgrid=False, zeroline=False, fixedrange=True,
               minor=dict(ticks="inside", ticklen=2, tickcolor=AXC, dtick=p["yminor"],
                          tick0=0, showgrid=False))
    layout["xaxis" if i == 1 else "xaxis%d" % i] = xax
    layout["yaxis" if i == 1 else "yaxis%d" % i] = yax

serif = "Liberation Serif, DejaVu Serif, serif"
ann = [
    dict(x=3 / W, y=1 - 15 / H, text="<i>J</i>(<i>ω<sub>S</sub></i>)/<i>Max</i>(<i>J</i>(<i>ω<sub>S</sub></i>))",
         xanchor="left", yanchor="middle", font=dict(family=serif, size=15, color="#222")),
    dict(x=8 / W, y=1 - 154 / H, text="<i>J</i>(<i>ω<sub>S</sub></i>)/<i>k</i><sup>2</sup>",
         xanchor="left", yanchor="middle", font=dict(family=serif, size=15, color="#222")),
]
for xc in (110, 310, 520, 723):
    ann.append(dict(x=xc / W, y=1 - 268 / H, text="<i>ω<sub>S</sub></i>", xanchor="center",
                    yanchor="middle", font=dict(family=serif, size=14, color="#333")))
for letter, xc in zip(PANEL_LETTERS, (47, 237, 448, 641)):
    ann.append(dict(x=xc / W, y=1 - 287 / H, text=letter, xanchor="center", yanchor="middle",
                    font=dict(family="Liberation Sans, Arial, sans-serif", size=13, color="#222")))
for a in ann:
    a.update(xref="paper", yref="paper", showarrow=False)

fig.update_layout(width=W, height=H, margin=dict(l=0, r=0, t=0, b=0),
                  paper_bgcolor="white", plot_bgcolor="white", showlegend=False,
                  annotations=ann, **layout)

fig.write_html("out.html", config={"displayModeBar": False, "staticPlot": True},
               post_script="document.body.style.margin='0';document.body.style.overflow='hidden';")
